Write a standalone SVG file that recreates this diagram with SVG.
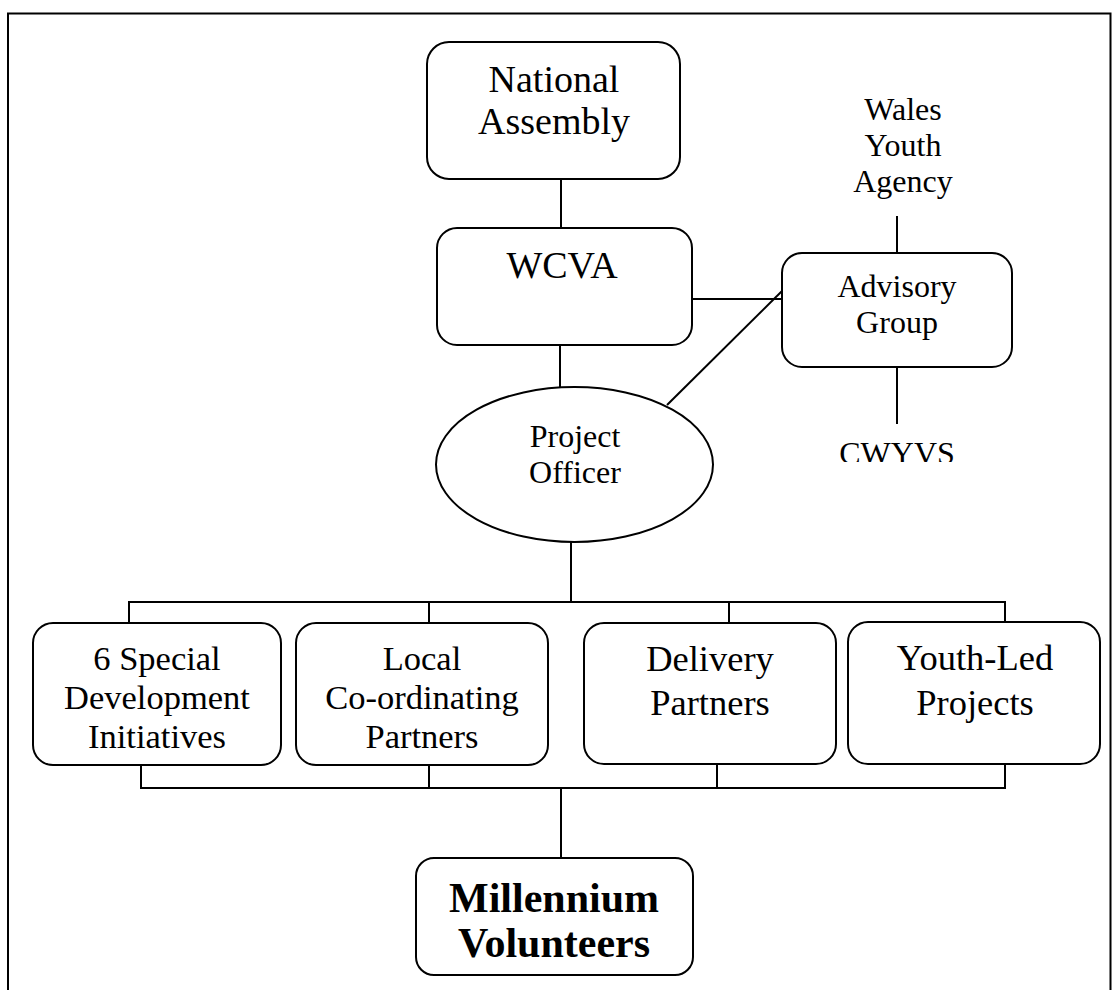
<svg xmlns="http://www.w3.org/2000/svg" width="1112" height="990" viewBox="0 0 1112 990">
<style>
.box{fill:#fff;stroke:#000;stroke-width:2}
.ln{stroke:#000;stroke-width:2;fill:none}
text{font-family:"Liberation Serif","Times New Roman",serif;fill:#000;text-anchor:middle}
.t38{font-size:38px}
.t32{font-size:32px}
.t35{font-size:34.5px}
.t36{font-size:36.5px}
.b42{font-size:42px;font-weight:bold}
</style>
<defs>
<clipPath id="cwclip"><rect x="800" y="420" width="200" height="42"/></clipPath>
</defs>
<rect x="0" y="0" width="1112" height="990" fill="#fff"/>
<g id="frame">
<path class="ln" d="M8,990 V13.5 H1110.5 V990"/>
</g>
<g id="connectors">
<line class="ln" x1="561" y1="179" x2="561" y2="228"/>
<line class="ln" x1="560" y1="345" x2="560" y2="387"/>
<line class="ln" x1="692" y1="299" x2="782" y2="299"/>
<line class="ln" x1="782" y1="291" x2="667" y2="405"/>
<line class="ln" x1="897" y1="216" x2="897" y2="253"/>
<line class="ln" x1="897" y1="367" x2="897" y2="424"/>
<line class="ln" x1="571" y1="542" x2="571" y2="602"/>
<path class="ln" d="M129,623 V602 H1005 V623 M429,602 V623 M729,602 V623"/>
<path class="ln" d="M141,765 V788 H1005 V765 M429,765 V788 M717,765 V788"/>
<line class="ln" x1="561" y1="788" x2="561" y2="858"/>
</g>
<g id="national-assembly">
<rect class="box" x="427" y="42" width="253" height="137" rx="22"/>
<text class="t38" x="554" y="92">National</text>
<text class="t38" x="554" y="134">Assembly</text>
</g>
<g id="wcva">
<rect class="box" x="437" y="228" width="255" height="117" rx="20"/>
<text class="t38" x="562" y="278">WCVA</text>
</g>
<g id="wales-youth-agency">
<text class="t32" x="903" y="120">Wales</text>
<text class="t32" x="903" y="156">Youth</text>
<text class="t32" x="903" y="192">Agency</text>
</g>
<g id="advisory-group">
<rect class="box" x="782" y="253" width="230" height="114" rx="20"/>
<text class="t32" x="897" y="297">Advisory</text>
<text class="t32" x="897" y="333">Group</text>
</g>
<g id="cwyvs">
<text class="t32" x="897" y="464" clip-path="url(#cwclip)">CWYVS</text>
</g>
<g id="project-officer">
<ellipse class="box" cx="574.5" cy="464.5" rx="138.5" ry="77.5"/>
<text class="t32" x="575" y="447">Project</text>
<text class="t32" x="575" y="483">Officer</text>
</g>
<g id="special-development">
<rect class="box" x="33" y="623" width="248" height="142" rx="20"/>
<text class="t35" x="157" y="670">6 Special</text>
<text class="t35" x="157" y="709">Development</text>
<text class="t35" x="157" y="748">Initiatives</text>
</g>
<g id="local-coordinating">
<rect class="box" x="296" y="623" width="252" height="142" rx="20"/>
<text class="t35" x="422" y="670">Local</text>
<text class="t35" x="422" y="709">Co-ordinating</text>
<text class="t35" x="422" y="748">Partners</text>
</g>
<g id="delivery-partners">
<rect class="box" x="584" y="623" width="252" height="141" rx="20"/>
<text class="t36" x="710" y="671">Delivery</text>
<text class="t36" x="710" y="715">Partners</text>
</g>
<g id="youth-led">
<rect class="box" x="848" y="622" width="252" height="142" rx="20"/>
<text class="t36" x="975" y="670">Youth-Led</text>
<text class="t36" x="975" y="715">Projects</text>
</g>
<g id="millennium-volunteers">
<rect class="box" x="416" y="858" width="277" height="117" rx="18"/>
<text class="b42" x="554" y="912">Millennium</text>
<text class="b42" x="554" y="957">Volunteers</text>
</g>
</svg>
